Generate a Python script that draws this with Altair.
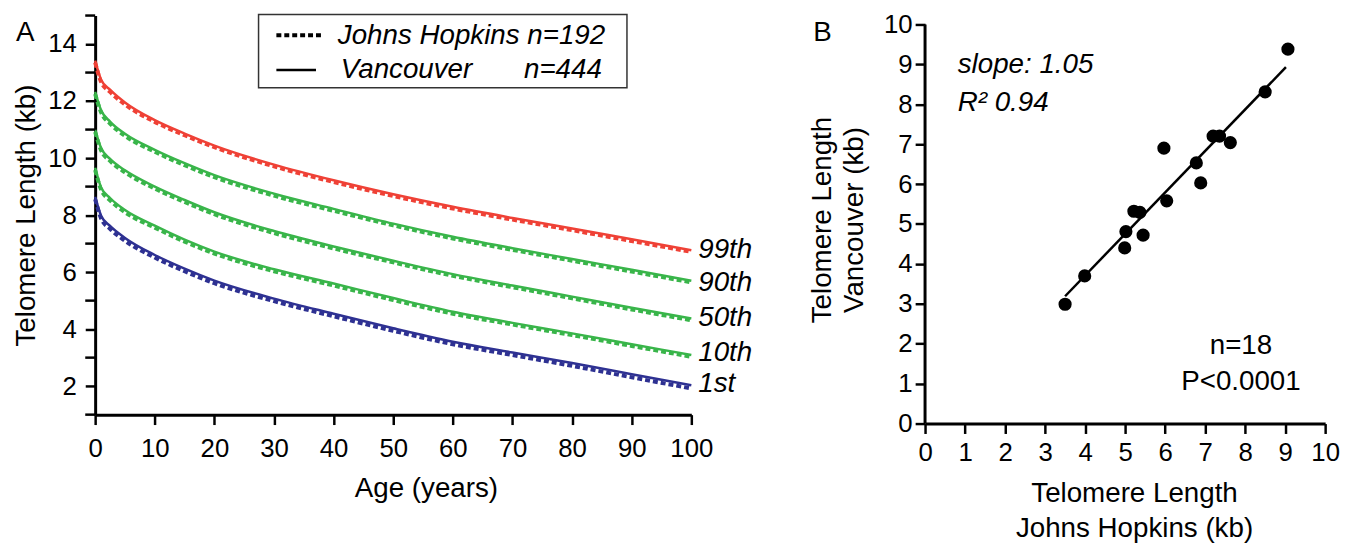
import altair as alt
import pandas as pd

FONT = "Liberation Sans"

# ---------------- Panel A data ----------------
ages = [0, 1, 2.5, 5, 10, 15, 20, 30, 40, 50, 60, 70, 80, 90, 100]
pct_names = ["99th", "90th", "50th", "10th", "1st"]
pct_colors = ["#EF4136", "#39B54A", "#39B54A", "#39B54A", "#2E3192"]

van_p99 = [13.42, 12.75, 12.40, 11.95, 11.33, 10.86, 10.44, 9.77, 9.22, 8.73, 8.29, 7.90, 7.53, 7.15, 6.77]
van_p90 = [12.32, 11.68, 11.28, 10.85, 10.29, 9.82, 9.40, 8.75, 8.22, 7.70, 7.24, 6.84, 6.46, 6.08, 5.70]
van_p50 = [10.99, 10.35, 9.97, 9.57, 9.00, 8.53, 8.10, 7.44, 6.90, 6.40, 5.93, 5.53, 5.14, 4.75, 4.37]
van_p10 = [9.66, 8.97, 8.60, 8.18, 7.63, 7.14, 6.72, 6.10, 5.60, 5.09, 4.61, 4.22, 3.85, 3.47, 3.09]
van_p1 = [8.64, 7.98, 7.62, 7.20, 6.60, 6.12, 5.70, 5.07, 4.54, 4.03, 3.56, 3.18, 2.81, 2.42, 2.03]

jh_p99 = [13.35, 12.67, 12.32, 11.88, 11.27, 10.80, 10.38, 9.71, 9.16, 8.67, 8.23, 7.84, 7.47, 7.09, 6.71]
jh_p90 = [12.25, 11.60, 11.21, 10.78, 10.22, 9.75, 9.33, 8.68, 8.15, 7.64, 7.18, 6.78, 6.40, 6.02, 5.64]
jh_p50 = [10.92, 10.27, 9.90, 9.50, 8.93, 8.46, 8.03, 7.37, 6.83, 6.34, 5.87, 5.47, 5.08, 4.69, 4.31]
jh_p10 = [9.58, 8.89, 8.52, 8.10, 7.56, 7.07, 6.65, 6.03, 5.53, 5.02, 4.54, 4.16, 3.79, 3.41, 3.03]
jh_p1 = [8.56, 7.88, 7.52, 7.10, 6.51, 6.03, 5.61, 4.98, 4.45, 3.94, 3.47, 3.09, 2.71, 2.31, 1.92]

label_age = 100
label_vals = [6.78, 5.62, 4.38, 3.17, 2.09]

y_major = [2, 4, 6, 8, 10, 12, 14]
y_minor = [1, 3, 5, 7, 9, 11, 13, 15]

# ---------------- Panel B data ----------------
hopkins = [3.50, 3.99, 4.99, 5.02, 5.45, 5.22, 5.37, 6.04, 5.97, 6.78, 6.89, 7.20, 7.36, 7.63, 8.50, 9.07]
vancouver = [2.99, 3.70, 4.40, 4.81, 4.72, 5.32, 5.29, 5.58, 6.90, 6.53, 6.03, 7.20, 7.20, 7.04, 8.31, 9.38]
fit_x = [3.50, 9.02]
fit_y = [3.19, 8.93]
b_ticks = list(range(0, 11))

# ---------------- build tables ----------------
van_series = [van_p99, van_p90, van_p50, van_p10, van_p1]
jh_series = [jh_p99, jh_p90, jh_p50, jh_p10, jh_p1]

van_rows, jh_rows = [], []
for name, vs, js in zip(pct_names, van_series, jh_series):
    for a, v, j in zip(ages, vs, js):
        van_rows.append({"age": a, "tl": v, "pct": name})
        jh_rows.append({"age": a, "tl": j, "pct": name})
df_van = pd.DataFrame(van_rows)
df_jh = pd.DataFrame(jh_rows)
df_lab = pd.DataFrame({"pct": pct_names, "age": [label_age] * 5, "tl": label_vals})
df_minor = pd.DataFrame({"tl": y_minor})

df_pts = pd.DataFrame({"hop": hopkins, "van": vancouver})
df_fit = pd.DataFrame({"hop": fit_x, "van": fit_y})

# ---------------- Panel A ----------------
xA = alt.X("age:Q", scale=alt.Scale(domain=[0, 100], nice=False, zero=False),
           axis=alt.Axis(values=list(range(0, 101, 10)), title="Age (years)",
                         labelFlush=False, labelOverlap=False, labelPadding=11,
                         titlePadding=14, titleX=334))
yA = alt.Y("tl:Q", scale=alt.Scale(domain=[1, 15], nice=False, zero=False),
           axis=alt.Axis(values=y_major, title="Telomere Length (kb)",
                         labelOverlap=False, labelPadding=9, titlePadding=7))
colorA = alt.Color("pct:N", scale=alt.Scale(domain=pct_names, range=pct_colors), legend=None)

dashed = alt.Chart(df_jh).mark_line(strokeDash=[5, 3], strokeWidth=4, interpolate="monotone").encode(
    x=xA, y=yA, color=colorA, detail="pct:N")
solid = alt.Chart(df_van).mark_line(strokeWidth=2.5, interpolate="monotone").encode(
    x="age:Q", y="tl:Q", color=colorA, detail="pct:N")
pct_text = alt.Chart(df_lab).mark_text(align="left", baseline="middle", dx=7, fontSize=28,
                                       fontStyle="italic", font=FONT, color="black").encode(
    x="age:Q", y="tl:Q", text="pct:N")
minor_ticks = alt.Chart(df_minor).mark_rule(strokeWidth=2.5, color="black").encode(
    y="tl:Q", x=alt.value(-10), x2=alt.value(0))

one = pd.DataFrame({"k": [0]})
leg_box = alt.Chart(one).mark_rect(fill="white", stroke="#333333", strokeWidth=1.5).encode(
    x=alt.value(165), x2=alt.value(537), y=alt.value(-1), y2=alt.value(73))
leg_dash = alt.Chart(one).mark_rule(strokeDash=[5, 3], strokeWidth=4, color="black").encode(
    x=alt.value(183), x2=alt.value(230), y=alt.value(20))
leg_solid = alt.Chart(one).mark_rule(strokeWidth=2.5, color="black").encode(
    x=alt.value(183), x2=alt.value(223), y=alt.value(55))
leg_t1 = alt.Chart(one).mark_text(text="Johns Hopkins n=192", align="left", baseline="middle",
                                  fontSize=28, fontStyle="italic", font=FONT, color="black").encode(
    x=alt.value(245), y=alt.value(21))
leg_t2 = alt.Chart(one).mark_text(text="Vancouver", align="left", baseline="middle",
                                  fontSize=28, fontStyle="italic", font=FONT, color="black").encode(
    x=alt.value(248), y=alt.value(55))
leg_t3 = alt.Chart(one).mark_text(text="n=444", align="left", baseline="middle",
                                  fontSize=28, fontStyle="italic", font=FONT, color="black").encode(
    x=alt.value(433), y=alt.value(55))
lab_A = alt.Chart(one).mark_text(text="A", align="left", baseline="alphabetic",
                                 fontSize=28, font=FONT, color="black").encode(
    x=alt.value(-80), y=alt.value(26))

panelA = alt.layer(dashed, solid, pct_text, minor_ticks, leg_box, leg_dash, leg_solid,
                   leg_t1, leg_t2, leg_t3, lab_A).properties(width=602, height=403)

# ---------------- Panel B ----------------
# plot area starts 9px above the "10" tick so that panel B sits lower than panel A
xB = alt.X("hop:Q", scale=alt.Scale(domain=[0, 10], nice=False, zero=False),
           axis=alt.Axis(values=b_ticks, title=["Telomere Length", "Johns Hopkins (kb)"],
                         labelFlush=False, labelOverlap=False, titlePadding=15,
                         titleLineHeight=35, titleX=211))
yB = alt.Y("van:Q", scale=alt.Scale(domain=[0, 10.2233], nice=False, zero=False),
           axis=alt.Axis(values=b_ticks, title=["Telomere Length", "Vancouver (kb)"], domain=False,
                         labelOverlap=False, titlePadding=15, titleLineHeight=33, labelPadding=3))

fit = alt.Chart(df_fit).mark_line(strokeWidth=2.5, color="black").encode(x=xB, y=yB)
yline = alt.Chart(one).mark_rule(strokeWidth=3, color="black").encode(
    x=alt.value(0), y=alt.datum(b_ticks[0]), y2=alt.datum(b_ticks[-1]))
pts = alt.Chart(df_pts).mark_circle(size=177, color="black", opacity=1).encode(x="hop:Q", y="van:Q")
t_slope = alt.Chart(one).mark_text(text="slope: 1.05", align="left", baseline="alphabetic",
                                   fontSize=28, fontStyle="italic", font=FONT, color="black").encode(
    x=alt.value(33), y=alt.value(58))
t_r2 = alt.Chart(one).mark_text(text="R² 0.94", align="left", baseline="alphabetic",
                                fontSize=28, fontStyle="italic", font=FONT, color="black").encode(
    x=alt.value(33), y=alt.value(96))
t_n = alt.Chart(one).mark_text(text="n=18", align="center", baseline="alphabetic",
                               fontSize=28, font=FONT, color="black").encode(
    x=alt.value(319), y=alt.value(342))
t_p = alt.Chart(one).mark_text(text="P<0.0001", align="center", baseline="alphabetic",
                               fontSize=28, font=FONT, color="black").encode(
    x=alt.value(319), y=alt.value(378))
lab_B = alt.Chart(one).mark_text(text="B", align="left", baseline="alphabetic",
                                 fontSize=28, font=FONT, color="black").encode(
    x=alt.value(-113), y=alt.value(26))

panelB = alt.layer(fit, yline, pts, t_slope, t_r2, t_n, t_p, lab_B).properties(width=404, height=412)

chart = alt.ConcatChart(concat=[panelA, panelB], columns=2, align="none", spacing=56).properties(
    padding={"left": 5, "top": 0, "right": 0, "bottom": 0}
).configure(font=FONT).configure_view(stroke=None).configure_axis(
    domainColor="black", domainWidth=3, tickColor="black", tickWidth=2.5, tickSize=10,
    labelFontSize=26, labelColor="black", labelFont=FONT, labelPadding=6,
    titleFontSize=28, titleFontWeight="normal", titleColor="black", titleFont=FONT, grid=False
)

chart.save("out.html", embed_options={"renderer": "svg", "actions": False})
